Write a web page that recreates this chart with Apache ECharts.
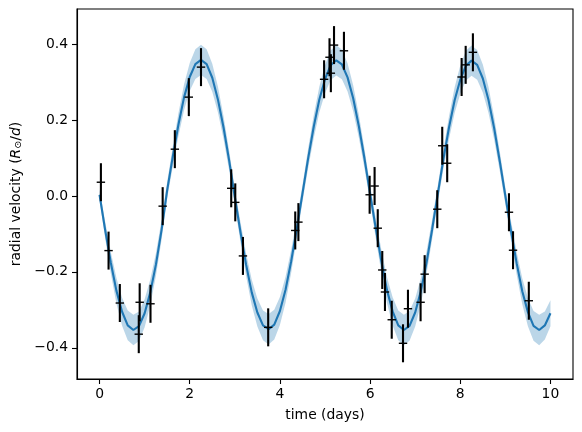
<!DOCTYPE html>
<html>
<head>
<meta charset="utf-8">
<script src="https://cdn.jsdelivr.net/npm/echarts@6/dist/echarts.min.js"></script>
<style>
html, body { margin: 0; padding: 0; background: #fff; }
#chart { width: 582px; height: 432px; }
</style>
</head>
<body>
<div id="chart"></div>
<script>
// model curve, read every 0.125 days
var modelT = [
    0, 0.125, 0.25, 0.375, 0.5, 0.625, 0.75, 0.875, 1, 1.125, 1.25, 1.375,
    1.5, 1.625, 1.75, 1.875, 2, 2.125, 2.25, 2.375, 2.5, 2.625, 2.75, 2.875,
    3, 3.125, 3.25, 3.375, 3.5, 3.625, 3.75, 3.875, 4, 4.125, 4.25, 4.375,
    4.5, 4.625, 4.75, 4.875, 5, 5.125, 5.25, 5.375, 5.5, 5.625, 5.75, 5.875,
    6, 6.125, 6.25, 6.375, 6.5, 6.625, 6.75, 6.875, 7, 7.125, 7.25, 7.375,
    7.5, 7.625, 7.75, 7.875, 8, 8.125, 8.25, 8.375, 8.5, 8.625, 8.75, 8.875,
    9, 9.125, 9.25, 9.375, 9.5, 9.625, 9.75, 9.875, 10
];
var modelRv = [
    0.003, -0.090, -0.176, -0.250, -0.305, -0.341, -0.353, -0.343, -0.309, -0.254, -0.181, -0.090,
    0.015, 0.104, 0.188, 0.260, 0.313, 0.347, 0.358, 0.347, 0.311, 0.254, 0.180, 0.093,
    -0.003, -0.095, -0.181, -0.254, -0.307, -0.341, -0.351, -0.339, -0.303, -0.247, -0.172, -0.086,
    0.006, 0.098, 0.182, 0.254, 0.307, 0.344, 0.357, 0.346, 0.312, 0.257, 0.184, 0.099,
    0.006, -0.085, -0.172, -0.248, -0.304, -0.341, -0.353, -0.342, -0.307, -0.251, -0.177, -0.089,
    0.004, 0.096, 0.180, 0.252, 0.306, 0.343, 0.356, 0.345, 0.309, 0.253, 0.179, 0.092,
    0.000, -0.092, -0.177, -0.251, -0.306, -0.342, -0.353, -0.341, -0.309
];
var modelErr = [
    0.014, 0.022, 0.028, 0.034, 0.037, 0.039, 0.040, 0.039, 0.037, 0.034, 0.030, 0.026,
    0.022, 0.026, 0.030, 0.034, 0.037, 0.039, 0.040, 0.039, 0.037, 0.034, 0.030, 0.026,
    0.022, 0.026, 0.030, 0.034, 0.037, 0.039, 0.040, 0.039, 0.037, 0.034, 0.030, 0.026,
    0.022, 0.026, 0.030, 0.034, 0.037, 0.039, 0.040, 0.039, 0.037, 0.034, 0.030, 0.026,
    0.022, 0.026, 0.030, 0.034, 0.037, 0.039, 0.040, 0.039, 0.037, 0.034, 0.030, 0.026,
    0.022, 0.026, 0.030, 0.034, 0.037, 0.039, 0.040, 0.039, 0.037, 0.034, 0.030, 0.026,
    0.022, 0.026, 0.030, 0.034, 0.037, 0.039, 0.040, 0.037, 0.034
];

// observations
var obsT = [
    0.03, 0.20, 0.45, 0.87, 0.89, 1.13, 1.40, 1.67, 1.98, 2.25,
    2.92, 3.01, 3.18, 3.74, 4.34, 4.41, 4.98, 5.10, 5.13, 5.20,
    5.42, 5.99, 6.10, 6.17, 6.27, 6.33, 6.48, 6.73, 6.84, 7.12,
    7.21, 7.49, 7.60, 7.71, 8.03, 8.12, 8.28, 9.08, 9.17, 9.52
];
var obsRv = [
    0.036, -0.144, -0.282, -0.364, -0.280, -0.284, -0.027, 0.123, 0.260, 0.339,
    0.020, -0.017, -0.158, -0.346, -0.091, -0.069, 0.307, 0.365, 0.323, 0.397,
    0.382, 0.003, 0.026, -0.085, -0.195, -0.253, -0.326, -0.388, -0.297, -0.280,
    -0.206, -0.035, 0.132, 0.086, 0.313, 0.345, 0.378, -0.043, -0.143, -0.276
];
var obsErr = [
    0.05, 0.05, 0.05, 0.05, 0.05, 0.05, 0.05, 0.05, 0.05, 0.05,
    0.05, 0.05, 0.05, 0.05, 0.05, 0.05, 0.05, 0.05, 0.05, 0.05,
    0.05, 0.05, 0.05, 0.05, 0.05, 0.05, 0.05, 0.05, 0.05, 0.05,
    0.05, 0.05, 0.05, 0.05, 0.05, 0.05, 0.05, 0.05, 0.05, 0.05
];

var xTicks = [0, 2, 4, 6, 8, 10];
var yTicks = [-0.4, -0.2, 0.0, 0.2, 0.4];

var FONT = 'DejaVu Sans';
var BLUE = '#1f77b4';

var bandData = modelT.map(function (t, i) {
    return [t, modelRv[i] - modelErr[i], modelRv[i] + modelErr[i]];
});
var lineData = modelT.map(function (t, i) { return [t, modelRv[i]]; });
var obsData = obsT.map(function (t, i) { return [t, obsRv[i], obsErr[i]]; });

function renderBand(params, api) {
    if (params.dataIndex !== 0) return null;
    var pts = [];
    for (var i = 0; i < bandData.length; i++) {
        pts.push(api.coord([bandData[i][0], bandData[i][2]]));
    }
    for (var j = bandData.length - 1; j >= 0; j--) {
        pts.push(api.coord([bandData[j][0], bandData[j][1]]));
    }
    return {
        type: 'polygon',
        shape: { points: pts },
        style: { fill: 'rgba(31,119,180,0.3)', stroke: null }
    };
}

function renderErrorBar(params, api) {
    var t = api.value(0), v = api.value(1), e = api.value(2);
    var top = api.coord([t, v + e]);
    var bot = api.coord([t, v - e]);
    var mid = api.coord([t, v]);
    return {
        type: 'group',
        children: [
            {
                type: 'line',
                shape: { x1: top[0], y1: top[1], x2: bot[0], y2: bot[1] },
                style: { stroke: '#000', lineWidth: 2.1 }
            },
            {
                type: 'line',
                shape: { x1: mid[0] - 4.2, y1: mid[1], x2: mid[0] + 4.2, y2: mid[1] },
                style: { stroke: '#000', lineWidth: 1.4 }
            }
        ]
    };
}

function fmtY(v) {
    var s = Math.abs(v).toFixed(1);
    return (v < -1e-9 ? '\u2212' : '') + s;
}

var chart = echarts.init(document.getElementById('chart'));
chart.setOption({
    animation: false,
    backgroundColor: '#fff',
    grid: {
        left: 77, right: 9, top: 9, bottom: 53,
        show: true, borderColor: '#000', borderWidth: 1.1,
        containLabel: false, outerBoundsMode: 'none'
    },
    xAxis: {
        type: 'value',
        min: -0.5, max: 10.5,
        name: 'time (days)',
        nameLocation: 'middle',
        nameGap: 29,
        nameTextStyle: { fontFamily: FONT, fontSize: 13.9, color: '#000' },
        axisLine: { show: true, onZero: false, lineStyle: { color: '#000', width: 1.1 } },
        splitLine: { show: false },
        axisTick: {
            show: true, length: 5, inside: false,
            customValues: xTicks,
            lineStyle: { color: '#000', width: 1.1 }
        },
        axisLabel: {
            customValues: xTicks,
            margin: 8,
            fontFamily: FONT, fontSize: 13.9, color: '#000',
            formatter: function (v) { return String(v); }
        }
    },
    yAxis: {
        type: 'value',
        min: -0.482, max: 0.492,
        name: 'radial velocity ({it|R}{sub|\u2299}/{it|d})',
        nameLocation: 'middle',
        nameGap: 50,
        nameRotate: 90,
        nameTextStyle: {
            fontFamily: FONT, fontSize: 13.9, color: '#000',
            rich: {
                it: { fontFamily: FONT, fontSize: 13.9, fontStyle: 'italic', color: '#000' },
                sub: { fontFamily: FONT, fontSize: 9.7, color: '#000', verticalAlign: 'bottom', lineHeight: 8 }
            }
        },
        axisLine: { show: true, onZero: false, lineStyle: { color: '#000', width: 1.1 } },
        splitLine: { show: false },
        axisTick: {
            show: true, length: 5, inside: false,
            customValues: yTicks,
            lineStyle: { color: '#000', width: 1.1 }
        },
        axisLabel: {
            customValues: yTicks,
            margin: 9,
            fontFamily: FONT, fontSize: 13.9, color: '#000',
            formatter: fmtY
        }
    },
    series: [
        {
            type: 'custom',
            name: 'band',
            z: 1,
            silent: true,
            renderItem: renderBand,
            encode: { x: 0, y: [1, 2] },
            data: bandData
        },
        {
            type: 'line',
            name: 'model',
            z: 2,
            silent: true,
            symbol: 'none',
            smooth: false,
            lineStyle: { color: BLUE, width: 2.1 },
            data: lineData
        },
        {
            type: 'custom',
            name: 'data',
            z: 3,
            silent: true,
            renderItem: renderErrorBar,
            encode: { x: 0, y: 1 },
            data: obsData
        }
    ]
});
</script>
</body>
</html>
